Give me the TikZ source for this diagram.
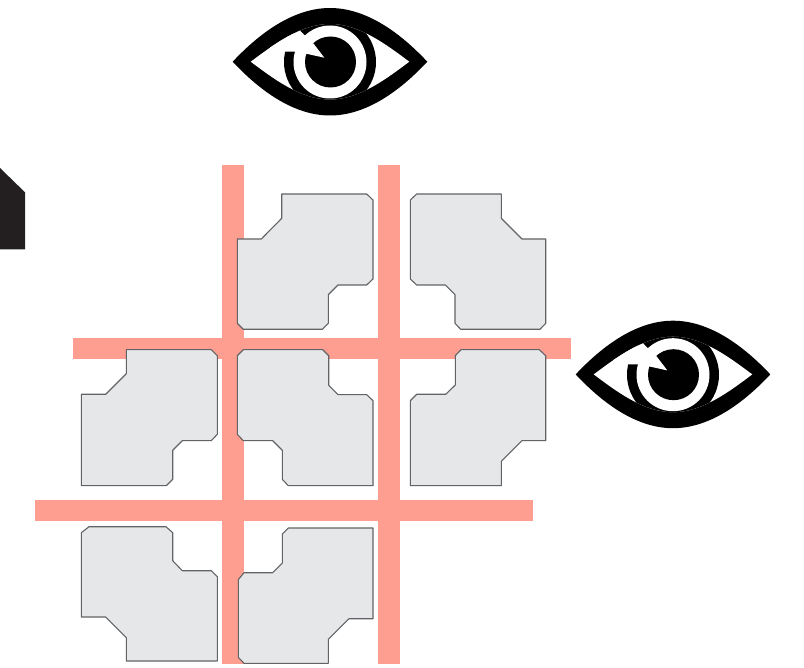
\documentclass[tikz,border=0pt]{standalone}
\definecolor{barc}{HTML}{FD9E90}
\definecolor{cellf}{HTML}{E6E7E8}
\definecolor{celld}{HTML}{626366}
\definecolor{blockc}{HTML}{231F20}
\tikzset{
  barshape/.style={fill=barc,draw=none},
  cellshape/.style={fill=cellf,draw=celld,line width=1.1pt,line join=round},
  eye/.pic={
    \def\outerlens{(232.7,61.7) .. controls (255,38) and (290,8) .. (330,8) .. controls (370,8) and (405,38) .. (427.3,61.7) .. controls (405,85.5) and (370,115.5) .. (330,115.5) .. controls (290,115.5) and (255,85.5) .. (232.7,61.7) -- cycle}
    \def\innerlens{(250.7,61.7) .. controls (272,46) and (300,24) .. (330,24) .. controls (360,24) and (388,46) .. (409.3,61.7) .. controls (388,77.5) and (360,99.5) .. (330,99.5) .. controls (300,99.5) and (272,77.5) .. (250.7,61.7) -- cycle}
    \fill[black] \outerlens;
    \fill[white] \innerlens;
    \begin{scope}
      \clip \innerlens;
      \fill[black] (330,62) circle[radius=46];
      \fill[white] (330,62) circle[radius=36.5];
      \fill[white] (330,51.7) -- (270,51.7) -- (270,20) -- (290,20) -- (330,62) -- cycle;
    \end{scope}
    \fill[black] (330.5,62) circle[radius=25.5];
    \fill[white] (324.3,57.7) -- (304.3,53.3) -- (300,47) -- (313.3,43.3) -- cycle;
  }
}
\begin{document}
\begin{tikzpicture}[x=1pt,y=-1pt]
\useasboundingbox (0,0) rectangle (804,668);
% bars
\fill[barshape] (221.7,165) rectangle (243.7,664);
\fill[barshape] (378,165) rectangle (400,664);
\fill[barshape] (73,338) rectangle (571,359);
\fill[barshape] (35,499.5) rectangle (533,521);
% left block
\fill[blockc] (0,168) -- (25,192.3) -- (25,249.3) -- (0,249.3) -- cycle;
% row 1
\draw[cellshape] (281.7,194) -- (366.7,194) -- (373,200) -- (373,279) -- (366.7,285) -- (338,285) -- (328.3,294.7) -- (328.3,323.3) -- (322.3,329.3) -- (243.3,329.3) -- (237.3,323.3) -- (237.3,239) -- (261.3,239) -- (281.7,218.3) -- cycle;
\draw[cellshape] (416.7,194) -- (501.3,194) -- (501.3,218.3) -- (522,239) -- (545.7,239) -- (545.7,323.3) -- (540,329.3) -- (460.7,329.3) -- (455,323.3) -- (455,294.7) -- (445.3,285) -- (416.7,285) -- (410.3,279) -- (410.3,200) -- cycle;
% row 2
\draw[cellshape] (126.3,349.7) -- (211.3,349.7) -- (217.3,355.7) -- (217.3,434.3) -- (211.3,440.7) -- (182.3,440.7) -- (172.7,450.3) -- (172.7,479.3) -- (166.3,485.7) -- (81.3,485.7) -- (81.3,394.3) -- (105.7,394.3) -- (126.3,373.7) -- cycle;
\draw[cellshape] (243.3,349.7) -- (322.7,349.7) -- (328.7,355.7) -- (328.7,385.3) -- (338,394.7) -- (366.7,394.7) -- (373,400.7) -- (373,485.7) -- (288.3,485.7) -- (282.3,479.3) -- (282.3,450.3) -- (272.7,440.7) -- (243.3,440.7) -- (237.3,434.3) -- (237.3,355.7) -- cycle;
\draw[cellshape] (461,349.7) -- (539.3,349.7) -- (545.7,355.7) -- (545.7,440.7) -- (522,440.7) -- (501.3,461.3) -- (501.3,485.7) -- (410.3,485.7) -- (410.3,400.7) -- (416.7,394.3) -- (445.7,394.3) -- (455.3,385) -- (455.3,355.7) -- cycle;
% row 3
\draw[cellshape] (89,526.7) -- (166,526.7) -- (172.7,532.7) -- (172.7,560.7) -- (182.3,570.7) -- (211.3,570.7) -- (217.3,576.7) -- (217.3,661) -- (126.3,661) -- (126.3,637.7) -- (105.7,617) -- (81.3,617) -- (81.3,532.7) -- cycle;
\draw[cellshape] (288.3,528) -- (373,528) -- (373,618.7) -- (349,618.7) -- (328.3,639.3) -- (328.3,663.3) -- (244,663.3) -- (238.3,657.3) -- (238.3,579.7) -- (244,572.7) -- (272.7,572.7) -- (282.3,563) -- (282.3,534) -- cycle;
% eyes
\pic at (0,0) {eye};
\pic at (343,312.7) {eye};
\end{tikzpicture}
\end{document}
